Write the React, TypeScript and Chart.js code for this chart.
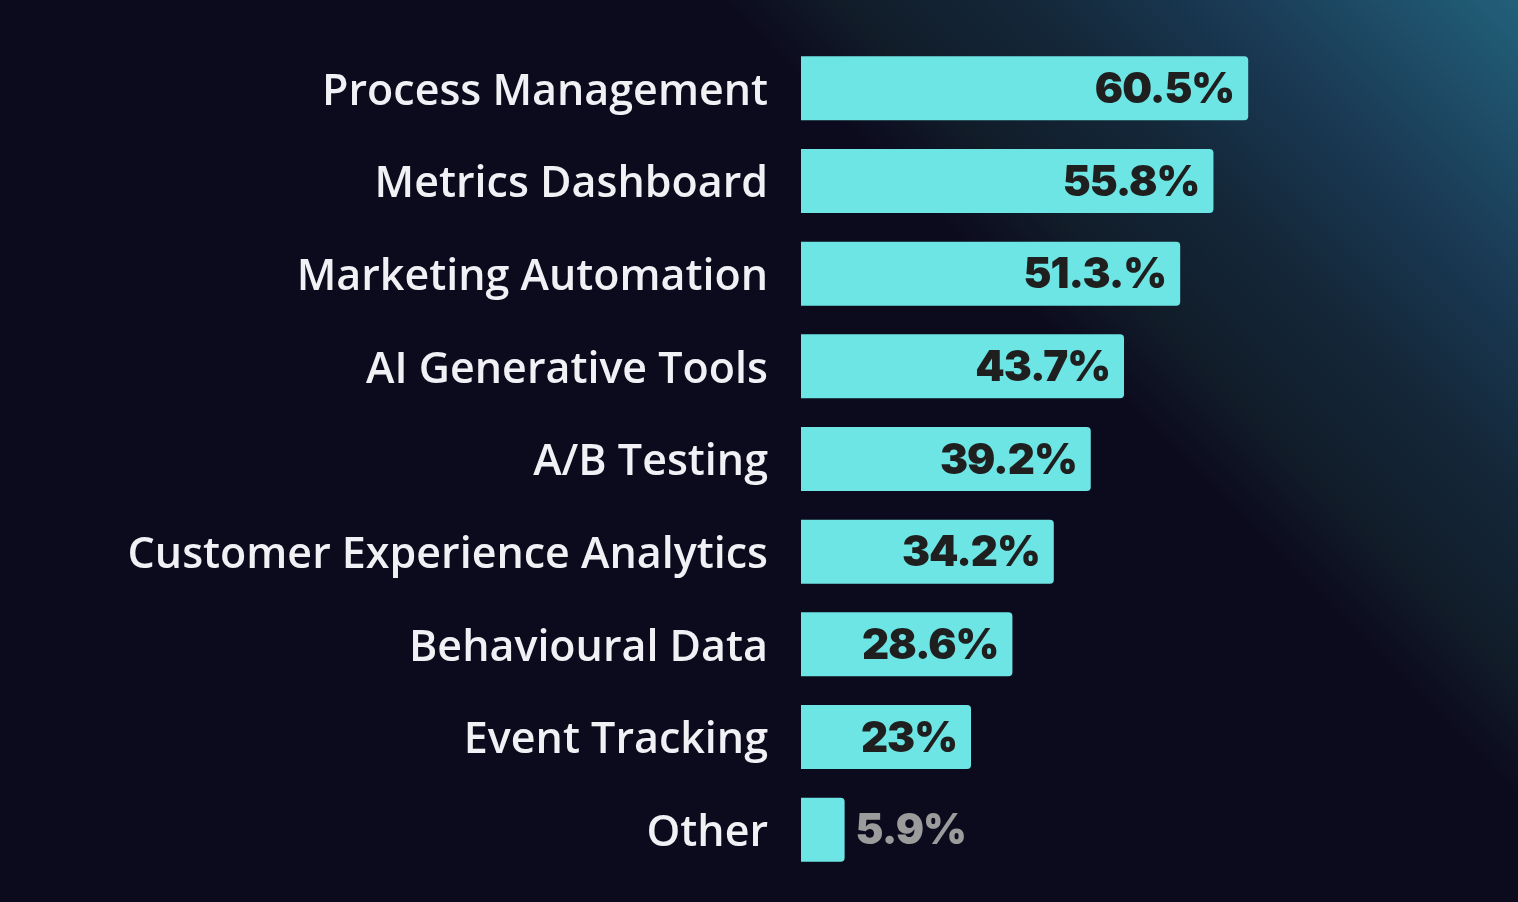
import React, { useEffect, useRef } from "react";
import { Chart, registerables } from "chart.js";

Chart.register(...registerables);

const categories = [
  "Process Management",
  "Metrics Dashboard",
  "Marketing Automation",
  "AI Generative Tools",
  "A/B Testing",
  "Customer Experience Analytics",
  "Behavioural Data",
  "Event Tracking",
  "Other",
];
const values = [60.5, 55.8, 51.3, 43.7, 39.2, 34.2, 28.6, 23, 5.9];
const valueLabels = ["60.5%", "55.8%", "51.3.%", "43.7%", "39.2%", "34.2%", "28.6%", "23%", "5.9%"];
const insideLabel = [true, true, true, true, true, true, true, true, false];

const valueLabelPlugin = {
  id: "valueLabels",
  afterDatasetsDraw(chart: any) {
    const ctx = chart.ctx;
    const meta = chart.getDatasetMeta(0);
    ctx.save();
    ctx.font = "900 42px Inter";
    try {
      (ctx as any).letterSpacing = "-1px";
    } catch (e) {}
    ctx.textBaseline = "middle";
    meta.data.forEach((bar: any, i: number) => {
      const y = bar.y + 2;
      if (insideLabel[i]) {
        ctx.fillStyle = "#1f1f1f";
        ctx.textAlign = "right";
        ctx.fillText(valueLabels[i], bar.x - 14, y);
      } else {
        ctx.fillStyle = "#9b9b9b";
        ctx.textAlign = "left";
        ctx.fillText(valueLabels[i], bar.x + 11, y);
      }
    });
    ctx.restore();
  },
};

export default function App() {
  const ref = useRef<HTMLCanvasElement | null>(null);
  useEffect(() => {
    document.body.style.margin = "0";
    const chart = new Chart(ref.current as HTMLCanvasElement, {
      type: "bar",
      data: {
        labels: categories,
        datasets: [
          {
            data: values,
            backgroundColor: "#6ce5e4",
            borderRadius: 4,
            barPercentage: 0.69,
            categoryPercentage: 1,
          },
        ],
      },
      options: {
        indexAxis: "y",
        animation: false,
        responsive: false,
        maintainAspectRatio: false,
        layout: { padding: { top: 42, bottom: 26, left: 0, right: 0 } },
        plugins: { legend: { display: false }, tooltip: { enabled: false } },
        scales: {
          x: { display: false, min: 0, max: 97 },
          y: {
            grid: { display: false, drawTicks: false },
            border: { display: false },
            ticks: {
              color: "#f0f0f5",
              font: { family: "Open Sans", size: 43, weight: "600" },
              padding: 33,
              labelOffset: 4,
            },
            afterFit(scale: any) {
              scale.width = 801;
              scale.paddingTop = 0;
              scale.paddingBottom = 0;
            },
          },
        },
      },
      plugins: [valueLabelPlugin],
    });
    return () => chart.destroy();
  }, []);
  return (
    <div
      style={{
        position: "absolute",
        left: 0,
        top: 0,
        width: 1518,
        height: 902,
        background:
          "linear-gradient(45deg, #0c0b1d 0%, #0c0b1d 67%, #111c29 72%, #14283a 80%, #1a3a55 88%, #22607a 100%)",
      }}
    >
      <canvas ref={ref} width={1518} height={902} style={{ display: "block" }} />
    </div>
  );
}
